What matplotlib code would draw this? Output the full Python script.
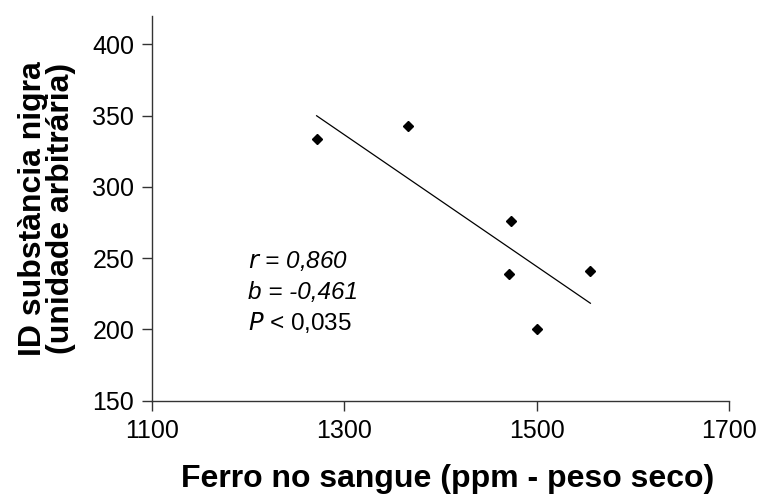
import numpy as np
import matplotlib.pyplot as plt

plt.rcParams['font.family'] = ['Liberation Sans', 'DejaVu Sans']

# ferro no sangue (ppm) vs ID substancia nigra
ferro = [1271, 1366, 1473, 1471, 1500, 1556]
id_nigra = [334, 343, 276, 239, 200, 241]

x_ticks = [1100, 1300, 1500, 1700]
y_ticks = [150, 200, 250, 300, 350, 400]

fig = plt.figure(figsize=(7.6, 4.94), dpi=100)
ax = fig.add_axes([0.2005, 0.189, 0.7583, 0.7786])

ax.plot(ferro, id_nigra, 'D', color='black', markersize=5)

# linha de regressao
b, a = np.polyfit(ferro, id_nigra, 1)
xs = np.array([min(ferro), max(ferro)])
ax.plot(xs, a + b * xs, color='black', linewidth=0.9)

ax.set_xlim(1100, 1700)
ax.set_ylim(150, 420)
ax.set_xticks(x_ticks)
ax.set_yticks(y_ticks)
ax.tick_params(direction='out', length=7, width=1, color='#333333', labelsize=18)
ax.tick_params(axis='x', pad=6)
ax.tick_params(axis='y', pad=6)

for s in ['top', 'right']:
    ax.spines[s].set_visible(False)
for s in ['left', 'bottom']:
    ax.spines[s].set_color('#333333')
    ax.spines[s].set_linewidth(1)

ax.set_xlabel('Ferro no sangue (ppm - peso seco)', fontsize=23, fontweight='bold', labelpad=15)
ax.xaxis.label.set_x(0.512)
ax.set_ylabel('ID substància nigra\n(unidade arbitrária)', fontsize=23, fontweight='bold',
              labelpad=12, linespacing=0.9)

ax.text(1200, 248, '$\\it{r}$ = 0,860', fontsize=17.5, style='italic', va='center')
ax.text(1200, 226, 'b = -0,461', fontsize=17.5, style='italic', va='center')
ax.text(1200, 205, '$\\it{P}$ < 0,035', fontsize=17.5, va='center')

fig.savefig('out.png', dpi=100)
